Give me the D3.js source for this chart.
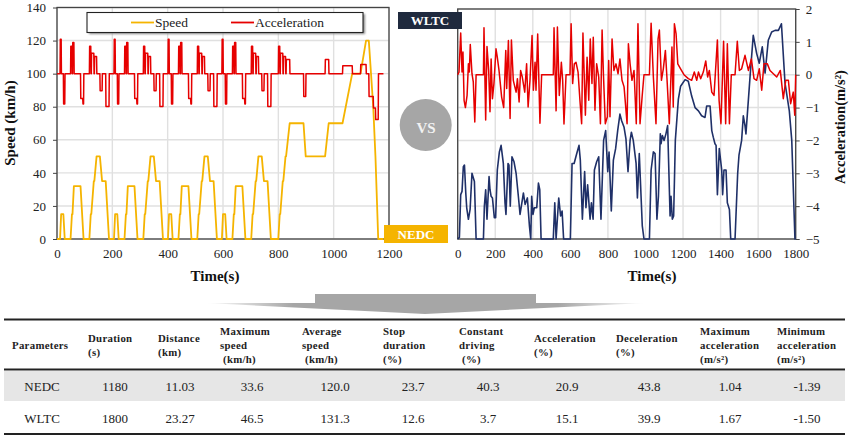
<!DOCTYPE html>
<html>
<head>
<meta charset="utf-8">
<script src="https://cdn.jsdelivr.net/npm/d3@7"></script>
<style>
html, body { margin: 0; padding: 0; background: #fff; }
svg { display: block; font-family: "Liberation Serif", serif; }
.axis path { display: none; }
.axis text { font-size: 13px; fill: #222; font-family: "Liberation Serif", serif; }
.axis line { stroke: #444; }
.title { font-size: 15px; font-weight: bold; fill: #111; }
</style>
</head>
<body>
<div id="chart"></div>
<script>
var nedcSpeedTime = [
    0,11,15,23,28,49,54,56,61,85,96,117,122,124,133,135,143,155,163,176,188,
    206,210,218,223,244,249,251,256,280,291,312,317,319,328,330,338,350,358,371,383,
    401,405,413,418,439,444,446,451,475,486,507,512,514,523,525,533,545,553,566,578,
    596,600,608,613,634,639,641,646,670,681,702,707,709,718,720,728,740,748,761,773,
    800,805,807,816,818,826,828,841,891,899,969,982,1032,1067,1097,1117,1127,1143,1151,1161,1180];
var nedcSpeed = [
    0,0,15,15,0,0,15,15,32,32,0,0,15,15,35,35,50,50,35,35,0,
    0,15,15,0,0,15,15,32,32,0,0,15,15,35,35,50,50,35,35,0,
    0,15,15,0,0,15,15,32,32,0,0,15,15,35,35,50,50,35,35,0,
    0,15,15,0,0,15,15,32,32,0,0,15,15,35,35,50,50,35,35,0,
    0,15,15,35,35,50,50,70,70,50,50,70,70,100,100,120,120,80,50,0,0];
var nedcAccelTime = [
    0,11,12,15,16,23,24,28,29,49,50,54,55,56,57,61,62,85,86,93,94,96,97,117,118,122,123,124,125,133,134,135,136,143,144,155,156,163,164,176,177,188,189,
    206,207,210,211,218,219,223,224,244,245,249,250,251,252,256,257,280,281,288,289,291,292,312,313,317,318,319,320,328,329,330,331,338,339,350,351,358,359,371,372,383,384,
    401,402,405,406,413,414,418,419,439,440,444,445,446,447,451,452,475,476,483,484,486,487,507,508,512,513,514,515,523,524,525,526,533,534,545,546,553,554,566,567,578,579,
    596,597,600,601,608,609,613,614,634,635,639,640,641,642,646,647,670,671,678,679,681,682,702,703,707,708,709,710,718,719,720,721,728,729,740,741,748,749,761,762,773,774,
    800,801,805,806,807,808,816,817,818,819,826,827,828,829,841,842,
    891,892,899,900,969,970,982,983,1032,1033,1067,1068,1097,1098,1117,1118,
    1127,1128,1143,1144,1151,1152,1161,1162,1180];
var nedcAccel = [
    0,0,1.04,1.04,0,0,-.92,-.92,0,0,.83,.83,0,0,.94,.94,0,0,-.75,-.75,-.92,-.92,0,0,.83,.83,0,0,.62,.62,0,0,.52,.52,0,0,-.52,-.52,0,0,-.99,-.99,0,
    0,1.04,1.04,0,0,-.92,-.92,0,0,.83,.83,0,0,.94,.94,0,0,-.75,-.75,-.92,-.92,0,0,.83,.83,0,0,.62,.62,0,0,.52,.52,0,0,-.52,-.52,0,0,-.99,-.99,0,
    0,1.04,1.04,0,0,-.92,-.92,0,0,.83,.83,0,0,.94,.94,0,0,-.75,-.75,-.92,-.92,0,0,.83,.83,0,0,.62,.62,0,0,.52,.52,0,0,-.52,-.52,0,0,-.99,-.99,0,
    0,1.04,1.04,0,0,-.92,-.92,0,0,.83,.83,0,0,.94,.94,0,0,-.75,-.75,-.92,-.92,0,0,.83,.83,0,0,.62,.62,0,0,.52,.52,0,0,-.52,-.52,0,0,-.99,-.99,0,
    0,.83,.83,0,0,.62,.62,0,0,.52,.52,0,0,.43,.43,0,
    0,-.69,-.69,0,0,.43,.43,0,0,.24,.24,0,0,.28,.28,0,
    0,-.69,-.69,-1.04,-1.04,-1.39,-1.39,0,0];

var wltcSpeedTime = [
    0,9,16,23,30,36,43,48,57,66,76,89,98,137,142,149,156,167,172,178,185,195,202,211,222,231,243,252,257,268,273,280,289,300,311,323,332,350,359,371,382,389,394,401,408,421,430,437,444,
    509,517,524,538,548,556,564,600,609,620,634,646,653,664,676,683,692,705,712,721,728,740,751,763,777,788,799,806,818,829,841,852,864,873,886,896,907,918,925,935,950,957,967,983,992,
    1021,1030,1042,1051,1061,1069,1079,1083,1090,1099,1109,1118,1131,1136,1143,1150,1159,1175,1187,1211,1228,1246,1264,1282,1299,1317,1326,1344,1353,1361,1370,1376,1383,1393,1406,1411,1418,1429,1436,1447,1454,
    1477,1491,1498,1512,1521,1530,1535,1557,1574,1592,1606,1622,1637,1654,1672,1690,1708,1724,1743,1766,1779,1796,1800];
var wltcSpeed = [
    0,1,27,29,44,45,28,19,12,18,40,35,0,0,20,30,12,38,30,26,25,13,13,42,53,57,46,22,15,46,45,20,50,47,40,26,15,28,21,25,8,0,26,15,19,19,34,30,0,
    0,22,0,25,14,17,0,0,46,46,52,57,48,12,41,19,33,12,22,12,42,47,50,12,60,66,41,53,17,48,55,66,76,72,68,61,41,60,65,60,46,25,52,8,0,
    0,42,53,52,12,26,64,58,63,60,64,69,14,26,12,14,60,85,93,97,96,87,80,78,75,74,81,81,66,62,58,57,27,55,42,27,42,42,22,18,0,
    0,40,51,60,75,69,64,99,124,113,107,117,101,121,126,127,127,131,95,78,60,0,0];

var wltcAccelTime = [
    0,7,16,23,28,34,41,50,57,62,67,76,83,91,98,137,140,149,156,165,172,178,185,193,204,211,220,234,245,256,261,270,279,286,296,311,318,327,335,344,357,367,375,385,396,403,412,417,426,438,447,
    509,513,524,531,541,552,559,566,577,598,604,612,621,630,641,651,660,667,680,689,698,706,715,722,731,740,751,760,769,776,786,797,804,811,822,832,843,854,864,875,886,902,909,918,928,939,951,960,971,982,992,
    1021,1030,1042,1056,1067,1074,1085,1095,1106,1115,1127,1141,1148,1154,1163,1172,1187,1205,1228,1246,1260,1273,1282,1294,1308,1321,1331,1340,1353,1365,1383,1392,1402,1416,1427,1436,1447,1457,
    1477,1489,1500,1512,1530,1548,1564,1578,1592,1606,1619,1631,1649,1663,1681,1699,1718,1734,1747,1761,1773,1787,1795,1800];
var wltcAccel = [
    0,.08,1.27,.08,.69,-.78,-1,-.63,.33,.08,.92,.03,-.22,-1.44,0,0,1.43,-1.38,.86,.13,-1.13,.48,-.73,-.27,.79,.53,.13,-.68,-1,.74,-.42,1.04,-1.33,1.06,-.17,-.53,-.12,-.83,.13,-.07,-.53,.33,-.98,-.17,1.19,-.47,.38,-.47,1.24,-1.48,0,
    0,1.43,-1.1,1.45,-.63,.38,-.17,-1.5,0,0,1.55,-.27,.33,.38,.08,-.78,-1.49,1.27,-1.23,.53,-.78,1.09,-.27,1.14,-1.08,.33,-.07,-1.49,1.36,.03,-1.49,-1.28,.43,-1.28,1.09,.13,.33,.03,.48,-.17,-.37,-1.49,.94,.33,-.17,.13,-1.49,1.55,-1.49,-.68,0,
    0,1.57,-.07,-1.49,1.09,1.36,-.17,.18,.74,-.17,-1.49,.84,-.98,1.55,1.24,.33,.18,0,-.12,-.17,.08,-.17,.08,-.12,.08,.42,-.07,.13,-.53,-.63,1.06,-.78,-1.49,1.02,-1.49,.94,-1.49,0,
    0,1.02,.13,.18,.59,.13,.48,-.12,-.17,.18,-.47,.33,.33,.13,.03,-.07,.13,-.73,-.17,-.17,-.88,-.53,-1.23,0];

var speedTicks = [0,20,40,60,80,100,120,140];
var accelTicks = [-5,-4,-3,-2,-1,0,1,2];
var nedcTimeTicks = [0,200,400,600,800,1000,1200];
var wltcTimeTicks = [0,200,400,600,800,1000,1200,1400,1600,1800];

var tableHeaders = [
    ['Parameters'],
    ['Duration','(s)'],
    ['Distance','(km)'],
    ['Maximum','speed',' (km/h)'],
    ['Average','speed',' (km/h)'],
    ['Stop','duration','(%)'],
    ['Constant','driving',' (%)'],
    ['Acceleration','(%)'],
    ['Deceleration','(%)'],
    ['Maximum','acceleration','(m/s\u00b2)'],
    ['Minimum','acceleration','(m/s\u00b2)']];
var rowNedc = ['NEDC','1180','11.03','33.6','120.0','23.7','40.3','20.9','43.8','1.04','-1.39'];
var rowWltc = ['WLTC','1800','23.27','46.5','131.3','12.6','3.7','15.1','39.9','1.67','-1.50'];

var headerX = [12,88,158,220,302,383,459,534,616,700,777];
var valueX = [42,115,180,252,335,413,488,567,649,730,807];

var GOLD = '#f5b400', RED = '#e60000', NAVY = '#1f3068', GRID = '#e0e0e0', FRAME = '#444';

var svg = d3.select('#chart').append('svg').attr('width', 850).attr('height', 439);

var defs = svg.append('defs');
defs.append('filter').attr('id', 'soft').append('feGaussianBlur').attr('stdDeviation', 1);
var fade = defs.append('linearGradient').attr('id', 'fade').attr('gradientUnits', 'userSpaceOnUse')
    .attr('x1', 205).attr('x2', 646).attr('y1', 0).attr('y2', 0);
[[0,'#fff'],[0.2,'#a6a6a6'],[0.8,'#a6a6a6'],[1,'#fff']].forEach(function(s) {
    fade.append('stop').attr('offset', s[0]).attr('stop-color', s[1]);
});

function drawPanel(opts) {
    var x = d3.scaleLinear().domain(opts.timeDomain).range(opts.xRange);
    var ySpeed = d3.scaleLinear().domain([0,140]).range(opts.yRange);
    var yAccel = d3.scaleLinear().domain([-5,2]).range(opts.yRange);
    var g = svg.append('g');

    g.selectAll('.vgrid').data(opts.timeTicks).enter().append('line')
        .attr('x1', x).attr('x2', x)
        .attr('y1', opts.yRange[0]).attr('y2', opts.yRange[1])
        .attr('stroke', GRID).attr('stroke-width', 1.4);
    g.selectAll('.hgrid').data(speedTicks).enter().append('line')
        .attr('x1', opts.xRange[0]).attr('x2', opts.xRange[1])
        .attr('y1', ySpeed).attr('y2', ySpeed)
        .attr('stroke', GRID).attr('stroke-width', 1.4);

    g.append('rect')
        .attr('x', opts.xRange[0]).attr('y', opts.yRange[1])
        .attr('width', opts.xRange[1] - opts.xRange[0])
        .attr('height', opts.yRange[0] - opts.yRange[1])
        .attr('fill', 'none').attr('stroke', FRAME).attr('stroke-width', 1.3);

    var xAxis = d3.axisBottom(x).tickValues(opts.timeTicks).tickSize(0).tickPadding(10).tickFormat(d3.format('d'));
    g.append('g').attr('class', 'axis').attr('transform', 'translate(0,' + opts.yRange[0] + ')').call(xAxis);

    if (opts.side == 'left') {
        var yAxis = d3.axisLeft(ySpeed).tickValues(speedTicks).tickSize(4).tickPadding(7);
        g.append('g').attr('class', 'axis').attr('transform', 'translate(' + opts.xRange[0] + ',0)').call(yAxis);
    } else {
        var yAxisR = d3.axisRight(yAccel).tickValues(accelTicks).tickSize(4).tickPadding(6).tickFormat(d3.format('d'));
        g.append('g').attr('class', 'axis').attr('transform', 'translate(' + opts.xRange[1] + ',0)').call(yAxisR);
    }

    var speedLine = d3.line().x(function(d) { return x(d[0]); }).y(function(d) { return ySpeed(d[1]); });
    var accelLine = d3.line().x(function(d) { return x(d[0]); }).y(function(d) { return yAccel(d[1]); });

    g.append('path').datum(d3.zip(opts.speedTime, opts.speed))
        .attr('d', speedLine).attr('fill', 'none')
        .attr('stroke', opts.speedColor).attr('stroke-width', opts.speedWidth).attr('stroke-linejoin', 'round');
    g.append('path').datum(d3.zip(opts.accelTime, opts.accel))
        .attr('d', accelLine).attr('fill', 'none')
        .attr('stroke', RED).attr('stroke-width', 1.5).attr('stroke-linejoin', 'round');
}

drawPanel({
    side: 'left', timeDomain: [0,1200], xRange: [57,389], yRange: [239,7.5], timeTicks: nedcTimeTicks,
    speedTime: nedcSpeedTime, speed: nedcSpeed, accelTime: nedcAccelTime, accel: nedcAccel,
    speedColor: GOLD, speedWidth: 1.8
});
drawPanel({
    side: 'right', timeDomain: [0,1800], xRange: [457.7,795.7], yRange: [239,9], timeTicks: wltcTimeTicks,
    speedTime: wltcSpeedTime, speed: wltcSpeed, accelTime: wltcAccelTime, accel: wltcAccel,
    speedColor: NAVY, speedWidth: 1.6
});

// axis titles
svg.append('text').attr('class', 'title').attr('transform', 'translate(15,123) rotate(-90)')
    .attr('text-anchor', 'middle').text('Speed (km/h)');
svg.append('text').attr('class', 'title').attr('x', 215).attr('y', 281)
    .attr('text-anchor', 'middle').text('Time(s)');
svg.append('text').attr('class', 'title').attr('x', 652).attr('y', 281)
    .attr('text-anchor', 'middle').text('Time(s)');
svg.append('text').attr('class', 'title').attr('transform', 'translate(845,127) rotate(-90)')
    .attr('text-anchor', 'middle').style('font-size', '14.5px').text('Acceleration(m/s\u00b2)');

// legend
svg.append('rect').attr('x', 89).attr('y', 14).attr('width', 276).attr('height', 20)
    .attr('fill', '#888').attr('filter', 'url(#soft)');
svg.append('rect').attr('x', 87).attr('y', 12.5).attr('width', 276).attr('height', 20)
    .attr('fill', '#fff').attr('stroke', '#222').attr('stroke-width', 1.1);
var legendItems = [['Speed', GOLD, 131], ['Acceleration', RED, 231]];
legendItems.forEach(function(item) {
    svg.append('line').attr('x1', item[2]).attr('x2', item[2] + 23).attr('y1', 22.5).attr('y2', 22.5)
        .attr('stroke', item[1]).attr('stroke-width', 1.8);
    svg.append('text').attr('x', item[2] + 24).attr('y', 27).attr('font-size', 13.5).attr('fill', '#222').text(item[0]);
});

// cycle badges and VS
svg.append('rect').attr('x', 398).attr('y', 12).attr('width', 64).attr('height', 17).attr('fill', '#1f2a3e');
svg.append('text').attr('x', 430).attr('y', 25).attr('text-anchor', 'middle')
    .attr('font-size', 13).attr('font-weight', 'bold').attr('fill', '#fff').text('WLTC');
svg.append('rect').attr('x', 384).attr('y', 225).attr('width', 64).attr('height', 18).attr('fill', GOLD);
svg.append('text').attr('x', 416).attr('y', 239).attr('text-anchor', 'middle')
    .attr('font-size', 13).attr('font-weight', 'bold').attr('fill', '#fff').text('NEDC');
svg.append('circle').attr('cx', 425.7).attr('cy', 125).attr('r', 26).attr('fill', '#a6a6a6');
svg.append('text').attr('x', 426).attr('y', 133).attr('text-anchor', 'middle')
    .attr('font-size', 15).attr('font-weight', 'bold').attr('fill', '#f2f2f2').text('VS');

// arrow above the table
var arrowPts = [[205,303],[315,303],[315,294],[536,294],[536,303],[646,303],[425,314]];
svg.append('polygon').attr('points', arrowPts.join(' ')).attr('fill', 'url(#fade)');

// table
svg.append('rect').attr('x', 4).attr('y', 371).attr('width', 841).attr('height', 30).attr('fill', '#e6e6e6');
[319.5,369.5,434].forEach(function(y) {
    svg.append('line').attr('x1', 4).attr('x2', 845).attr('y1', y).attr('y2', y)
        .attr('stroke', '#222').attr('stroke-width', 1.8);
});

var headerG = svg.selectAll('.hdr').data(tableHeaders).enter().append('text')
    .attr('class', 'hdr').attr('font-size', 10.8).attr('font-weight', 'bold')
    .attr('letter-spacing', 0.3).attr('fill', '#222')
    .attr('y', 0);
headerG.each(function(lines, i) {
    var top = 348.5 - (lines.length - 1) * 7;
    d3.select(this).selectAll('tspan').data(lines).enter().append('tspan')
        .attr('x', function(d) { return headerX[i] + (d.charAt(0) == ' ' ? 3 : 0); })
        .attr('y', function(d, j) { return top + j * 14; })
        .text(function(d) { return d.trim(); });
});

[[rowNedc, 390.5], [rowWltc, 422.5]].forEach(function(row) {
    svg.selectAll(null).data(row[0]).enter().append('text')
        .attr('x', function(d, i) { return valueX[i]; })
        .attr('y', row[1])
        .attr('text-anchor', 'middle').attr('font-size', 13).attr('fill', '#222')
        .text(function(d) { return d; });
});
</script>
</body>
</html>
